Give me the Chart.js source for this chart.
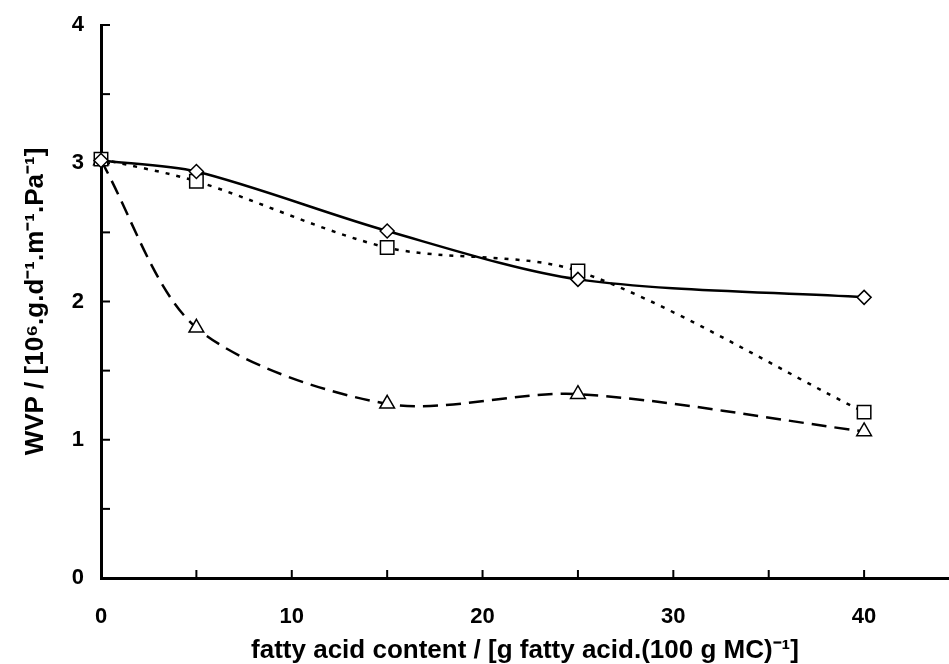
<!DOCTYPE html>
<html><head><meta charset="utf-8">
<script src="https://cdn.jsdelivr.net/npm/chart.js@4/dist/chart.umd.min.js"></script>
<style>html,body{margin:0;padding:0;background:#fff}#w{width:949px;height:664px}</style>
</head><body><div id="w"><canvas id="c"></canvas></div>
<script>
const fattyAcid = [0, 5, 15, 25, 40];
const diamondSeries = [3.02, 2.94, 2.51, 2.16, 2.03];
const squareSeries = [3.03, 2.87, 2.39, 2.22, 1.20];
const triangleSeries = [3.02, 1.81, 1.26, 1.33, 1.06];
const yTicks = [0, 0.5, 1, 1.5, 2, 2.5, 3, 3.5, 4];
const xTicks = [0, 5, 10, 15, 20, 25, 30, 35, 40];
const yTitle = 'WVP / [10\u2076.g.d\u207B\u00B9.m\u207B\u00B9.Pa\u207B\u00B9]';
const xTitle = 'fatty acid content / [g fatty acid.(100 g MC)\u207B\u00B9]';

const pts = ys => fattyAcid.map((x, i) => ({x, y: ys[i]}));
const FONT = 'Liberation Sans, Arial, sans-serif';

const innerTicks = {
  id: 'innerTicks',
  beforeDatasetsDraw(chart) {
    const {ctx, scales: {x, y}, chartArea} = chart;
    ctx.save();
    ctx.strokeStyle = '#000';
    ctx.lineWidth = 2;
    yTicks.forEach(v => {
      const p = y.getPixelForValue(v);
      ctx.beginPath(); ctx.moveTo(chartArea.left, p); ctx.lineTo(chartArea.left + 9, p); ctx.stroke();
    });
    xTicks.forEach(v => {
      const p = x.getPixelForValue(v);
      ctx.beginPath(); ctx.moveTo(p, chartArea.bottom); ctx.lineTo(p, chartArea.bottom - 8); ctx.stroke();
    });
    ctx.restore();
  }
};

const common = {borderColor: '#000', borderWidth: 2.5, pointBackgroundColor: '#fff', pointBorderColor: '#000', pointBorderWidth: 1.5, tension: 0.3, fill: false, clip: false};

new Chart(document.getElementById('c'), {
  type: 'line',
  data: {
    datasets: [
      Object.assign({label: 'diamond', data: pts(diamondSeries), pointStyle: 'rectRot', pointRadius: 7}, common),
      Object.assign({label: 'square', data: pts(squareSeries), pointStyle: 'rect', pointRadius: 9.5, borderDash: [4, 7]}, common),
      Object.assign({label: 'triangle', data: pts(triangleSeries), pointStyle: 'triangle', pointRadius: 8.5, borderDash: [15, 8]}, common)
    ]
  },
  options: {
    responsive: true, maintainAspectRatio: false, animation: false,
    layout: {autoPadding: false, padding: {top: 25, right: 0, left: 0, bottom: 0}},
    plugins: {legend: {display: false}, tooltip: {enabled: false}},
    scales: {
      x: {
        type: 'linear', min: 0, max: 44.45,
        afterBuildTicks: s => { s.ticks = xTicks.map(v => ({value: v})); },
        afterFit: s => { s.height = 86; s.paddingLeft = 0; s.paddingRight = 0; },
        grid: {display: false, drawTicks: false},
        border: {display: true, color: '#000', width: 3},
        ticks: {autoSkip: false, maxRotation: 0, padding: 26, color: '#000', font: {family: FONT, size: 22, weight: 'bold'},
          callback: v => (v % 10 === 0 ? String(v) : '')},
        title: {display: true, text: xTitle, color: '#000', padding: {top: 0, bottom: 0}, font: {family: FONT, size: 26, weight: 'bold', lineHeight: 1.0}}
      },
      y: {
        min: 0, max: 4,
        afterBuildTicks: s => { s.ticks = yTicks.map(v => ({value: v})); },
        afterFit: s => { s.width = 101; s.paddingTop = 0; s.paddingBottom = 0; },
        grid: {display: false, drawTicks: false},
        border: {display: true, color: '#000', width: 3},
        ticks: {autoSkip: false, padding: 17, color: '#000', font: {family: FONT, size: 22, weight: 'bold'},
          callback: v => (Number.isInteger(v) ? String(v) : '')},
        title: {display: true, text: yTitle, color: '#000', padding: {top: 20, bottom: 0}, font: {family: FONT, size: 26, weight: 'bold'}}
      }
    }
  },
  plugins: [innerTicks]
});
</script>
</body></html>
